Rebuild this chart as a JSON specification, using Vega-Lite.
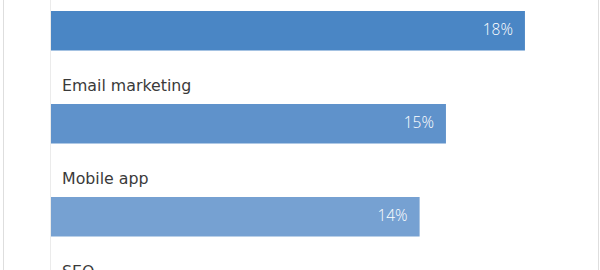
{
  "$schema": "https://vega.github.io/schema/vega-lite/v6.json",
  "width": 595,
  "height": 320,
  "autosize": {"type": "none"},
  "padding": {"left": 3, "top": -20, "right": 2, "bottom": 0},
  "background": "#ffffff",
  "config": {"view": {"stroke": "#dedede", "strokeWidth": 1}},
  "data": {
    "values": [
      {"channel": "Social media", "share": 0.18},
      {"channel": "Email marketing", "share": 0.15},
      {"channel": "Mobile app", "share": 0.14},
      {"channel": "SEO", "share": 0.12}
    ]
  },
  "layer": [
    {
      "mark": {"type": "bar", "height": 39.5},
      "encoding": {
        "y": {"field": "channel", "type": "nominal", "sort": null, "axis": null,
              "scale": {"range": [4.25, 376.25], "paddingInner": 0, "paddingOuter": 0}},
        "x": {"field": "share", "type": "quantitative", "axis": null,
              "scale": {"domain": [0, 0.2], "range": [48, 574.6]}},
        "color": {"field": "channel", "type": "nominal", "legend": null,
                  "scale": {"domain": ["Social media", "Email marketing", "Mobile app", "SEO"],
                            "range": ["#4a86c5", "#5f92cb", "#76a1d2", "#8cb1da"]}}
      }
    },
    {
      "mark": {"type": "rule", "color": "#ebebeb", "strokeWidth": 1, "xOffset": -0.5},
      "encoding": {"x": {"datum": 0}}
    },
    {
      "mark": {"type": "text", "align": "left", "baseline": "alphabetic", "dx": 11, "dy": -32.75,
               "font": "DejaVu Sans", "fontSize": 15.8, "color": "#3a3a3a"},
      "encoding": {
        "y": {"field": "channel", "type": "nominal", "sort": null},
        "x": {"datum": 0},
        "text": {"field": "channel"}
      }
    },
    {
      "mark": {"type": "text", "align": "right", "baseline": "alphabetic", "dx": -12, "dy": 4.5,
               "font": "Open Sans", "fontSize": 15.5, "fontWeight": 300, "color": "#ffffff"},
      "encoding": {
        "y": {"field": "channel", "type": "nominal", "sort": null},
        "x": {"field": "share", "type": "quantitative"},
        "text": {"field": "share", "type": "quantitative", "format": ".0%"}
      }
    }
  ]
}
